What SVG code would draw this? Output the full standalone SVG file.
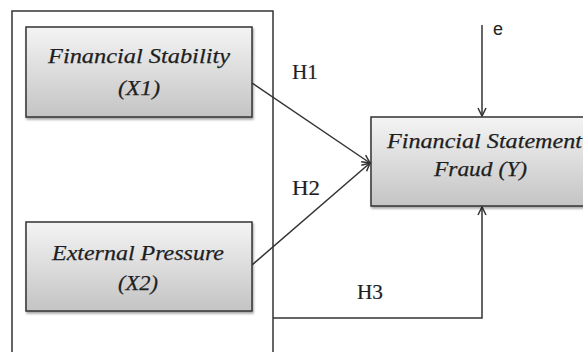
<svg xmlns="http://www.w3.org/2000/svg" width="583" height="352" viewBox="0 0 583 352">
<style>
.box{stroke:#333;stroke-width:1.5;fill:url(#g)}
.lbl{font-family:"Liberation Serif","Times New Roman",serif;font-style:italic;font-size:22px;fill:#1e1e1e;stroke:#1e1e1e;stroke-width:0.25;text-anchor:middle}
.h{font-family:"Liberation Serif","Times New Roman",serif;font-size:21px;fill:#1e1e1e;stroke:#1e1e1e;stroke-width:0.2}
.ln{stroke:#333;stroke-width:1.5;fill:none}
</style>
<defs>
<linearGradient id="g" x1="0" y1="0" x2="0" y2="1">
<stop offset="0" stop-color="#f4f4f4"/>
<stop offset="1" stop-color="#c4c4c4"/>
</linearGradient>
<filter id="sh" x="-5%" y="-5%" width="110%" height="115%">
<feDropShadow dx="1" dy="2" stdDeviation="1.2" flood-color="#000" flood-opacity="0.35"/>
</filter>
<marker id="arr" markerWidth="12" markerHeight="12" refX="10" refY="6" orient="auto" markerUnits="userSpaceOnUse">
<path d="M2,2 L10,6 L2,10" fill="none" stroke="#333" stroke-width="1.5"/>
</marker>
</defs>
<rect x="12" y="11" width="261" height="360" fill="none" stroke="#333" stroke-width="1.5"/>
<g id="connectors">
<line class="ln" x1="252" y1="83" x2="370" y2="163" marker-end="url(#arr)"/>
<line class="ln" x1="252" y1="265" x2="370" y2="163" marker-end="url(#arr)"/>
<polyline class="ln" points="273,318 482,318 482,207" marker-end="url(#arr)"/>
<line class="ln" x1="482" y1="25" x2="482" y2="116" marker-end="url(#arr)"/>
<text class="h" x="292" y="79" textLength="26" lengthAdjust="spacingAndGlyphs">H1</text>
<text class="h" x="292" y="195" textLength="28" lengthAdjust="spacingAndGlyphs">H2</text>
<text class="h" x="357" y="299" textLength="26" lengthAdjust="spacingAndGlyphs">H3</text>
<text x="493" y="35" font-family="'Liberation Sans',Arial,sans-serif" font-size="18" fill="#222">e</text>
</g>
<g id="x1">
<rect class="box" x="26" y="27" width="226" height="90" filter="url(#sh)"/>
<text class="lbl" x="139" y="63" textLength="182" lengthAdjust="spacingAndGlyphs">Financial Stability</text>
<text class="lbl" x="139" y="95" textLength="42" lengthAdjust="spacingAndGlyphs">(X1)</text>
</g>
<g id="x2">
<rect class="box" x="26" y="222" width="226" height="89" filter="url(#sh)"/>
<text class="lbl" x="138" y="260" textLength="172" lengthAdjust="spacingAndGlyphs">External Pressure</text>
<text class="lbl" x="138" y="290" textLength="40" lengthAdjust="spacingAndGlyphs">(X2)</text>
</g>
<g id="y">
<rect class="box" x="371" y="117" width="230" height="89" filter="url(#sh)"/>
<text class="lbl" x="484.5" y="148" textLength="195" lengthAdjust="spacingAndGlyphs">Financial Statement</text>
<text class="lbl" x="480.5" y="176" textLength="93" lengthAdjust="spacingAndGlyphs">Fraud (Y)</text>
</g>
</svg>
